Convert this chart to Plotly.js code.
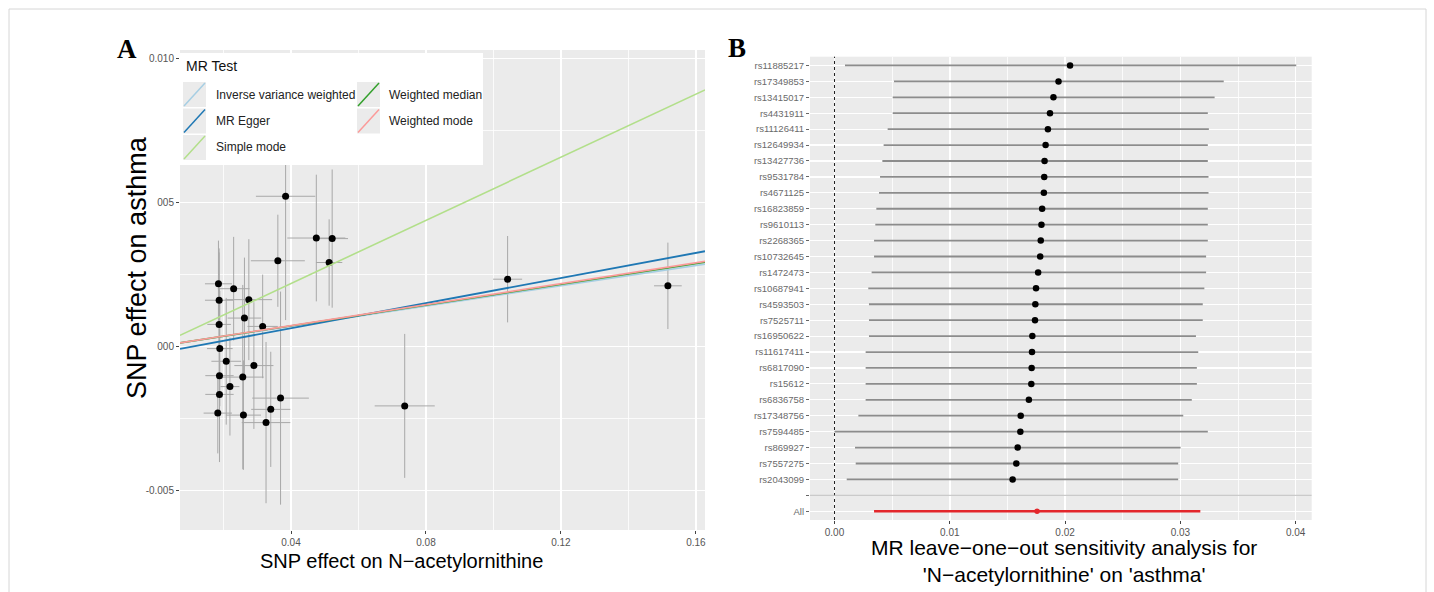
<!DOCTYPE html>
<html>
<head>
<meta charset="utf-8">
<script src="https://cdn.plot.ly/plotly-3.0.1.min.js"></script>
<style>html,body{margin:0;padding:0;background:#fff;}#chart{width:1434px;height:592px;}</style>
</head>
<body>
<div id="chart"></div>
<script>
// ---------- Panel A data: SNP effects ----------
const snpX    = [0.0384,0.0475,0.0522,0.0513,0.0361,0.0185,0.0230,0.0187,0.0275,0.0262,0.0187,0.0316,0.0189,0.0208,0.0290,0.0188,0.0257,0.0219,0.0188,0.0369,0.0340,0.0183,0.0259,0.0326,0.0737,0.1042,0.1517];
const snpY    = [0.00522,0.00377,0.00375,0.00292,0.00298,0.00218,0.00201,0.00161,0.00163,0.00099,0.00077,0.00070,-0.00007,-0.00051,-0.00066,-0.00101,-0.00106,-0.00139,-0.00166,-0.00179,-0.00218,-0.00231,-0.00238,-0.00264,-0.00206,0.00234,0.00211];
const snpXerr = [0.0088,0.0086,0.0047,0.0039,0.0080,0.0040,0.0047,0.0042,0.0069,0.0050,0.0035,0.0045,0.0038,0.0044,0.0058,0.0042,0.0062,0.0028,0.0042,0.0084,0.0058,0.0042,0.0052,0.0072,0.0089,0.0043,0.0041];
const snpYerr = [0.0043,0.0022,0.0024,0.0015,0.0016,0.0015,0.0018,0.0018,0.0021,0.0021,0.0025,0.0018,0.0020,0.0022,0.0022,0.0030,0.0032,0.0017,0.0020,0.0037,0.0020,0.0014,0.0019,0.0028,0.0025,0.0015,0.0015];

// MR methods
const methodNames  = ["Inverse variance weighted","MR Egger","Simple mode","Weighted median","Weighted mode"];
const methodSlope  = [0.0176,0.0218,0.0548,0.0180,0.0182];
const methodInter  = [0,-0.000235,0,0,0];
const methodColors = ["#A6CEE3","#1F78B4","#B2DF8A","#33A02C","#FB9A99"];

// ---------- Panel B data: leave-one-out ----------
const snps = ["rs11885217","rs17349853","rs13415017","rs4431911","rs11126411","rs12649934","rs13427736","rs9531784","rs4671125","rs16823859","rs9610113","rs2268365","rs10732645","rs1472473","rs10687941","rs4593503","rs7525711","rs16950622","rs11617411","rs6817090","rs15612","rs6836758","rs17348756","rs7594485","rs869927","rs7557275","rs2043099"];
const looB  = [0.02043,0.01943,0.01899,0.01869,0.01851,0.01831,0.01822,0.01819,0.01816,0.01801,0.01795,0.01789,0.01784,0.01766,0.01748,0.01742,0.01739,0.01716,0.01713,0.01710,0.01707,0.01686,0.01615,0.01612,0.01589,0.01577,0.01545];
const looLo = [0.00091,0.00516,0.00505,0.00505,0.00461,0.00426,0.00415,0.00395,0.00386,0.00363,0.00354,0.00343,0.00343,0.00322,0.00293,0.00299,0.00299,0.00299,0.00270,0.00270,0.00270,0.00270,0.00207,0.00000,0.00178,0.00184,0.00106];
const looHi = [0.04005,0.03376,0.03297,0.03238,0.03247,0.03238,0.03238,0.03244,0.03244,0.03238,0.03238,0.03238,0.03223,0.03223,0.03208,0.03194,0.03194,0.03135,0.03155,0.03143,0.03143,0.03099,0.03025,0.03238,0.03002,0.02981,0.02981];
const allLabel = "All";
const allB = 0.01757, allLo = 0.00343, allHi = 0.03173;

// tick labels
const aXTicks = [0.04,0.08,0.12,0.16];
const aXTickText = ["0.04","0.08","0.12","0.16"];
const aYTicks = [-0.005,0,0.005,0.010];
const aYTickText = ["-0.005","000","005","0.010"];
const bXTicks = [0,0.01,0.02,0.03,0.04];
const bXTickText = ["0.00","0.01","0.02","0.03","0.04"];

// ---------- geometry helpers ----------
const W = 1434, H = 592;
const px = v => v / W;
const py = v => 1 - v / H;

const aXRange = [0.0071, 0.1627];
const aYRange = [-0.00637, 0.0103];

const traces = [];
traces.push({
  type:'scatter', mode:'markers', x:snpX, y:snpY, xaxis:'x', yaxis:'y',
  marker:{color:'#000', size:7},
  error_x:{type:'data', array:snpXerr, symmetric:true, color:'#a8a8a8', thickness:1, width:0},
  error_y:{type:'data', array:snpYerr, symmetric:true, color:'#a8a8a8', thickness:1, width:0},
  showlegend:false, hoverinfo:'skip'
});
methodNames.forEach((m,i)=>{
  traces.push({
    type:'scatter', mode:'lines', xaxis:'x', yaxis:'y',
    x:aXRange, y:aXRange.map(v=>methodInter[i]+methodSlope[i]*v),
    line:{color:methodColors[i], width:(i===1?1.9:1.6)}, name:m, showlegend:false, hoverinfo:'skip'
  });
});

const bY = snps.map((s,i)=>i);
const blankPos = snps.length;
const allPos = snps.length + 1;
traces.push({
  type:'scatter', mode:'markers', xaxis:'x2', yaxis:'y2',
  x:looB, y:bY,
  marker:{color:'#000', size:6.5},
  error_x:{type:'data', symmetric:false, array:looHi.map((h,i)=>h-looB[i]), arrayminus:looB.map((b,i)=>b-looLo[i]), color:'#8c8c8c', thickness:1.8, width:0},
  showlegend:false, hoverinfo:'skip'
});
traces.push({
  type:'scatter', mode:'markers', xaxis:'x2', yaxis:'y2',
  x:[allB], y:[allPos],
  marker:{color:'#e3262b', size:5.5},
  error_x:{type:'data', symmetric:false, array:[allHi-allB], arrayminus:[allB-allLo], color:'#e3262b', thickness:2.6, width:0},
  showlegend:false, hoverinfo:'skip'
});

const tickFont = {family:'Liberation Sans, Arial, sans-serif', size:10, color:'#555'};

const shapes = [];
const annotations = [];

shapes.push({type:'rect', xref:'paper', yref:'paper', x0:px(9), x1:px(1426), y0:-0.1, y1:py(9), line:{color:'#d6d6d6', width:1}, fillcolor:'rgba(0,0,0,0)', layer:'below'});

shapes.push({type:'line', xref:'x2', yref:'paper', x0:0, x1:0, y0:py(520), y1:py(56.7), line:{color:'#222', width:1, dash:'dot'}, layer:'above'});
shapes.push({type:'line', xref:'paper', yref:'y2', x0:px(810), x1:px(1311.7), y0:blankPos, y1:blankPos, line:{color:'#bebebe', width:1}, layer:'above'});

shapes.push({type:'rect', xref:'paper', yref:'paper', x0:px(180), x1:px(483), y0:py(165), y1:py(53), fillcolor:'#ffffff', line:{width:0}, layer:'above'});
annotations.push({xref:'paper', yref:'paper', x:px(184), y:py(66), xanchor:'left', yanchor:'middle', text:'MR Test', showarrow:false, font:{family:'Liberation Sans, Arial, sans-serif', size:14, color:'#111'}});
const keyColX = [183, 357];
const labColX = [214, 387];
methodNames.forEach((m,i)=>{
  const col = Math.floor(i/3), row = i%3;
  const kx = keyColX[col], ky = 82 + row*26.5;
  shapes.push({type:'rect', xref:'paper', yref:'paper', x0:px(kx), x1:px(kx+23), y0:py(ky+25), y1:py(ky), fillcolor:'#ebebeb', line:{width:0}, layer:'above'});
  shapes.push({type:'line', xref:'paper', yref:'paper', x0:px(kx+1), x1:px(kx+22), y0:py(ky+24), y1:py(ky+1), line:{color:methodColors[i], width:1.5}, layer:'above'});
  annotations.push({xref:'paper', yref:'paper', x:px(labColX[col]), y:py(ky+12.5), xanchor:'left', yanchor:'middle', text:m, showarrow:false, font:{family:'Liberation Sans, Arial, sans-serif', size:12, color:'#222'}});
});

annotations.push({xref:'paper', yref:'paper', x:px(127), y:py(49), xanchor:'center', yanchor:'middle', text:'<b>A</b>', showarrow:false, font:{family:'Liberation Serif, Times New Roman, serif', size:27, color:'#000'}});
annotations.push({xref:'paper', yref:'paper', x:px(737), y:py(48), xanchor:'center', yanchor:'middle', text:'<b>B</b>', showarrow:false, font:{family:'Liberation Serif, Times New Roman, serif', size:27, color:'#000'}});
annotations.push({xref:'paper', yref:'paper', x:px(137), y:py(268), xanchor:'center', yanchor:'middle', textangle:-90, text:'SNP effect on asthma', showarrow:false, font:{family:'Liberation Sans, Arial, sans-serif', size:27, color:'#000'}});
annotations.push({xref:'paper', yref:'paper', x:px(401), y:py(561), xanchor:'center', yanchor:'middle', text:'SNP effect on N\u2212acetylornithine', showarrow:false, font:{family:'Liberation Sans, Arial, sans-serif', size:20, color:'#000'}});
annotations.push({xref:'paper', yref:'paper', x:px(1064), y:py(561), xanchor:'center', yanchor:'middle', text:"MR leave\u2212one\u2212out sensitivity analysis for<br>'N\u2212acetylornithine' on 'asthma'", showarrow:false, font:{family:'Liberation Sans, Arial, sans-serif', size:21, color:'#000'}});

const layout = {
  width:W, height:H, margin:{l:0,r:0,t:0,b:0},
  paper_bgcolor:'#fff', plot_bgcolor:'#ebebeb', showlegend:false,
  xaxis:{domain:[px(180),px(705)], range:aXRange, tickmode:'array', tickvals:aXTicks, ticktext:aXTickText,
    showgrid:true, gridcolor:'#fff', gridwidth:1.5, zeroline:false, showline:false,
    ticks:'outside', ticklen:3, tickcolor:'#444', tickwidth:1, tickfont:tickFont,
    minor:{tickmode:'array', tickvals:[0.02,0.06,0.10,0.14], showgrid:true, gridcolor:'#fff', gridwidth:0.8, ticks:''}},
  yaxis:{domain:[py(530),py(50)], range:aYRange, tickmode:'array', tickvals:aYTicks, ticktext:aYTickText,
    showgrid:true, gridcolor:'#fff', gridwidth:1.5, zeroline:false, showline:false,
    ticks:'outside', ticklen:3, tickcolor:'#444', tickwidth:1, tickfont:tickFont,
    minor:{tickmode:'array', tickvals:[-0.0025,0.0025,0.0075], showgrid:true, gridcolor:'#fff', gridwidth:0.8, ticks:''}},
  xaxis2:{domain:[px(810),px(1311.7)], range:[-0.002125,0.04139], tickmode:'array', tickvals:bXTicks, ticktext:bXTickText,
    showgrid:true, gridcolor:'#fff', gridwidth:1.5, zeroline:false, showline:false, anchor:'y2',
    ticks:'outside', ticklen:3, tickcolor:'#444', tickwidth:1, tickfont:tickFont,
    minor:{tickmode:'array', tickvals:[0.005,0.015,0.025,0.035], showgrid:true, gridcolor:'#fff', gridwidth:0.8, ticks:''}},
  yaxis2:{domain:[py(520),py(56.7)], range:[allPos+0.55,-0.55], anchor:'x2', tickmode:'array',
    tickvals:bY.concat([blankPos, allPos]), ticktext:snps.concat(["", allLabel]),
    showgrid:true, gridcolor:'#fff', gridwidth:1.2, zeroline:false, showline:false,
    ticks:'outside', ticklen:3, tickcolor:'#666', tickwidth:1,
    tickfont:{family:'Liberation Sans, Arial, sans-serif', size:9.5, color:'#6a6a6a'}},
  shapes:shapes, annotations:annotations
};

Plotly.newPlot('chart', traces, layout, {staticPlot:true, displayModeBar:false});
</script>
</body>
</html>
